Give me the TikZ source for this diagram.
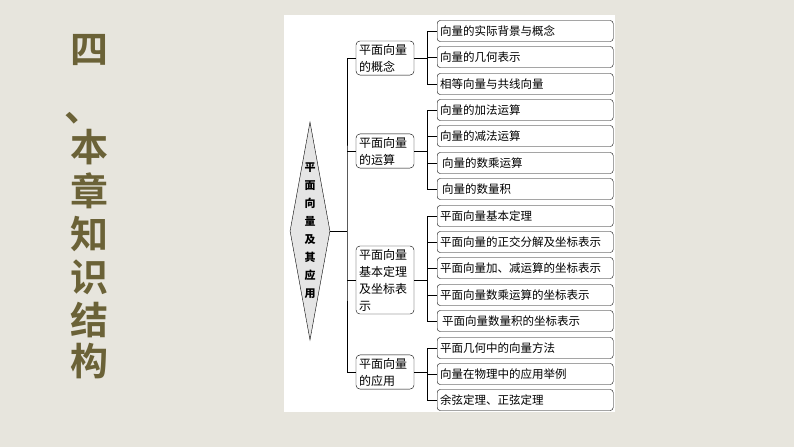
\documentclass[tikz,border=0pt]{standalone}
\usepackage{fontspec}
\setmainfont{Noto Sans CJK SC}
\newfontfamily\titlefont{Noto Sans CJK SC Bold}
\usetikzlibrary{shapes.geometric}
\definecolor{bg}{HTML}{E7E5DD}
\definecolor{tcol}{HTML}{6B6237}
\tikzset{
 leaf/.style={draw,rounded corners=3pt,minimum width=176pt,minimum height=21pt,anchor=west,font=\fontsize{11.5pt}{12pt}\selectfont,text width=170pt,align=left,inner sep=2pt},
 mid/.style={draw,rounded corners=4pt,minimum width=58pt,text width=52pt,align=left,font=\fontsize{12pt}{17pt}\selectfont,inner sep=3pt},
 ttl/.style={text=tcol,font=\titlefont\fontsize{38pt}{40pt}\selectfont},
 ln/.style={line width=0.7pt}
}
\begin{document}
\begin{tikzpicture}[x=1pt,y=-1pt]
\fill[bg] (0,0) rectangle (794,447);
\useasboundingbox (0,0) rectangle (794,447);
\fill[white] (284,15) rectangle (615,412);
% title
\node[ttl] (t0) at (89,50) {四};
\node[ttl] (t1) at (83,118) {、};
\node[ttl] (t2) at (89,147) {本};
\node[ttl] (t3) at (89,191) {章};
\node[ttl] (t4) at (89,234) {知};
\node[ttl] (t5) at (89,277) {识};
\node[ttl] (t6) at (89,320) {结};
\node[ttl] (t7) at (89,361) {构};
% diamond
\node[draw,fill=gray!20,diamond,minimum width=40pt,minimum height=218pt,inner sep=0pt,aspect=0.18,
  font=\fontsize{11pt}{18pt}\selectfont\bfseries,align=center] (root) at (310,231)
  {平\\面\\向\\量\\及\\其\\应\\用};
\coordinate (trunk) at (347,231);
\node[mid] (m1) at (385,58) {平面向量\\的概念};
\node[mid] (m2) at (385,151) {平面向量\\的运算};
\node[mid] (m3) at (385,280) {平面向量\\基本定理\\及坐标表\\示};
\node[mid] (m4) at (385,372) {平面向量\\的应用};
\draw[ln] (root.east) -- (trunk);
\draw[ln] (m1.west) -| (trunk) |- (m4.west);
\draw[ln] (m2.west) -- (m2.west -| trunk);
\draw[ln] (m3.west) -- (m3.west -| trunk);
\newcommand{\lf}[3]{\node[leaf] (#1) at (437,#2) {#3};}
\lf{a1}{31}{向量的实际背景与概念}
\lf{a2}{57}{向量的几何表示}
\lf{a3}{84}{相等向量与共线向量}
\lf{b1}{110}{向量的加法运算}
\lf{b2}{136}{向量的减法运算}
\lf{b3}{163}{\,向量的数乘运算}
\lf{b4}{189}{\,向量的数量积}
\lf{c1}{216}{平面向量基本定理}
\lf{c2}{242}{平面向量的正交分解及坐标表示}
\lf{c3}{268}{平面向量加、减运算的坐标表示}
\lf{c4}{295}{平面向量数乘运算的坐标表示}
\lf{c5}{321}{\,平面向量数量积的坐标表示}
\lf{d1}{348}{平面几何中的向量方法}
\lf{d2}{374}{向量在物理中的应用举例}
\lf{d3}{400}{余弦定理、正弦定理}
\foreach \m/\first/\last/\rest in {m1/a1/a3/a2, m2/b1/b4/{b2,b3}, m3/c1/c5/{c2,c3,c4}, m4/d1/d3/d2}{
  \coordinate (br) at ([xshift=13pt]\m.east);
  \draw[ln] (\m.east) -- (br);
  \draw[ln] (\first.west) -| (br) |- (\last.west);
  \foreach \r in \rest {\draw[ln] (\r.west) -- (\r.west -| br);}
}
\end{tikzpicture}
\end{document}
